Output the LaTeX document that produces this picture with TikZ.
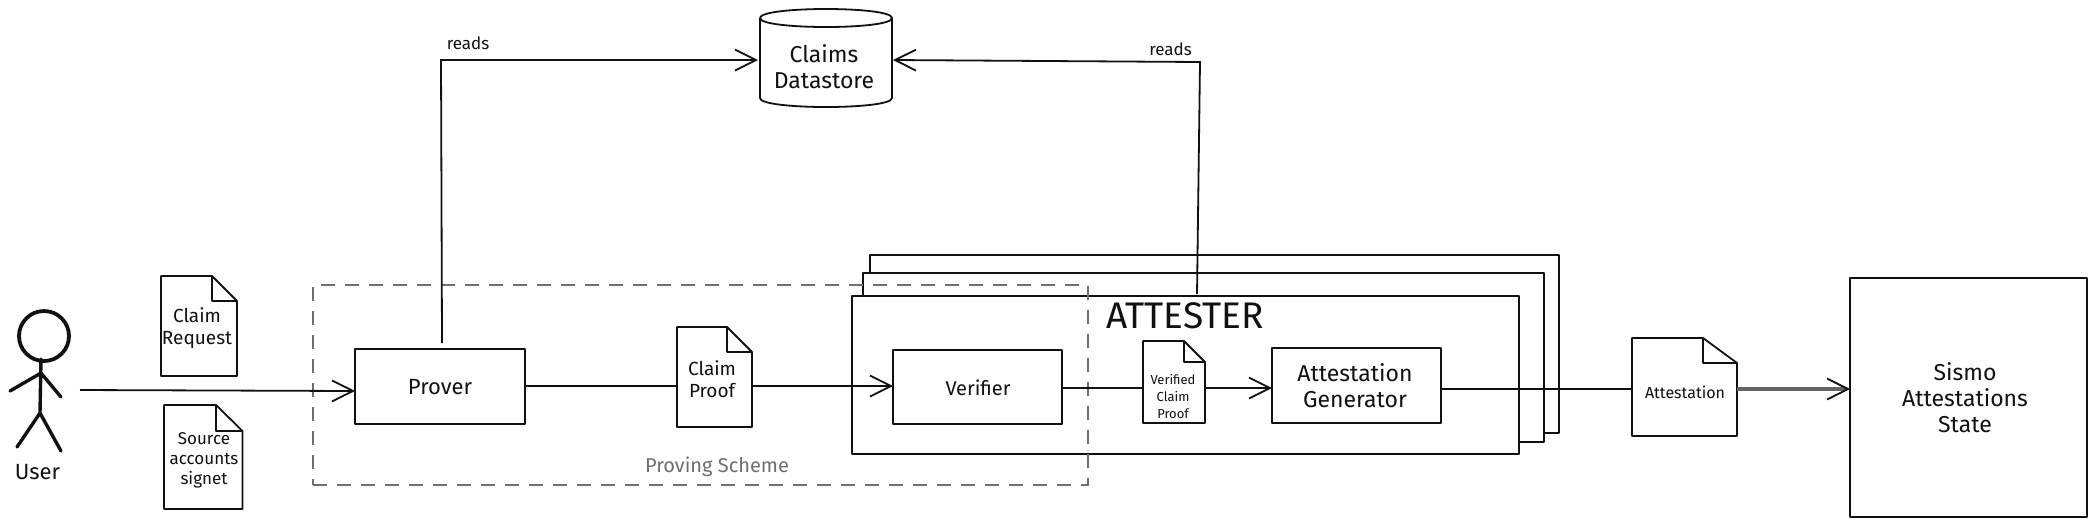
\documentclass[tikz,border=0pt]{standalone}
\usepackage{fontspec}
\setmainfont{Fira Sans}
\usetikzlibrary{arrows.meta,fit}
\definecolor{ink}{HTML}{111111}
\definecolor{dashgray}{HTML}{6E6E6E}
\tikzset{
  sbox/.style={draw=ink,line width=1pt,fill=white,inner sep=0pt,outer sep=0pt,line join=round,align=center},
  slab/.style={inner sep=0pt,outer sep=0pt,align=center,text=ink},
  conn/.style={draw=ink,line width=0.9pt},
  arr/.style={conn,-{Straight Barb[length=10.5pt,width=10.5pt,line width=0.9pt,color=ink]}},
  docline/.style={draw=ink,line width=0.9pt,fill=white,line join=round},
  stick/.style={draw=ink,line width=1.7pt,line cap=round},
  fA/.style={font=\fontsize{11.5}{13}\selectfont},
  fB/.style={font=\fontsize{11}{12.5}\selectfont},
  fC/.style={font=\fontsize{9.5}{11}\selectfont},
  fD/.style={font=\fontsize{8.5}{10}\selectfont},
  fE/.style={font=\fontsize{6.5}{8.5}\selectfont},
  fF/.style={font=\fontsize{8}{10}\selectfont},
  fG/.style={font=\fontsize{10}{12}\selectfont},
}
\newcommand{\docshape}[7]{%
  \node[fit={(#2,#3)(#4,#5)},inner sep=0pt,outer sep=0pt] (#1) {};
  \draw[docline] (#2,#3) -- (#6,#3) -- (#4,#7) -- (#4,#5) -- (#2,#5) -- cycle
    (#6,#3) -- (#6,#7) -- (#4,#7);
}
\begin{document}
\begin{tikzpicture}[x=0.5pt,y=-0.5pt]
\useasboundingbox (0,0) rectangle (2096,527);

% attester stack
\node[sbox,fit={(870,255)(1559,433)}] (back) {};
\node[sbox,fit={(863,273)(1544,442)}] (mid) {};
\node[sbox,fit={(852,296)(1519,454)}] (front) {};
\node[slab,font=\fontsize{18.5}{20}\selectfont] (attester) at (1185,316) {ATTESTER};

% proving scheme frame
\node[draw=dashgray,line width=0.9pt,dash pattern=on 7pt off 5pt,fit={(313,285)(1088,485)},inner sep=0pt,outer sep=0pt] (scheme) {};
\node[slab,fG,text=dashgray] (schemelabel) at (717,467) {Proving Scheme};

% user
\node[draw=ink,line width=1.9pt,circle,minimum size=25pt,inner sep=0pt,outer sep=0pt] (head) at (44,336) {};
\coordinate (neck) at (41,359);
\coordinate (hip) at (40,413);
\coordinate (shoulder) at (41,373);
\coordinate (lhand) at (10,391);
\coordinate (rhand) at (61,397);
\coordinate (lfoot) at (17,447);
\coordinate (rfoot) at (61,451);
\draw[stick] (neck) -- (hip) (lhand) -- (shoulder) -- (rhand) (lfoot) -- (hip) -- (rfoot);
\node[slab,fB] (user) at (37.5,472) {User};

% boxes
\node[sbox,fit={(355,349)(525,424)}] (prover) {};
\node[slab,fB] (provertext) at (440,387) {Prover};
\node[sbox,fit={(893,350)(1062,424)}] (verifier) {};
\node[slab,fG] (verifiertext) at (978,388) {Verifier};
\node[sbox,fit={(1272,348)(1441,423)}] (generator) {};
\node[slab,fA] (generatortext) at (1355,386) {Attestation\\Generator};
\node[sbox,line width=1.2pt,fit={(1850,278)(2087,517)}] (state) {};
\node[slab,fA] (statetext) at (1965,398) {Sismo\\Attestations\\State};

% datastore
\node[fit={(760,9)(892,107)},inner sep=0pt,outer sep=0pt] (store) {};
\draw[docline] (760,18) -- (760,98) .. controls (760,110) and (892,110) .. (892,98) -- (892,18)
  .. controls (892,6) and (760,6) .. (760,18) .. controls (760,30) and (892,30) .. (892,18);
\node[slab,fA] (storelabel) at (824,67) {Claims\\Datastore};

% documents
\docshape{reqdoc}{161}{276}{237}{376}{212}{301}
\node[slab,fC] (reqtext) at (197,328) {Claim\\Request};
\docshape{srcdoc}{164}{405}{242.5}{509}{216}{431}
\node[slab,fD] (srctext) at (204,460) {Source\\accounts\\signet};
\docshape{proofdoc}{677}{327}{752}{427}{727}{352}
\node[slab,fC] (prooftext) at (712,379) {Claim\\Proof};
\docshape{vdoc}{1143}{341}{1205}{423}{1184}{362}
\node[slab,fE] (vtext) at (1173,396) {Verified\\Claim\\Proof};
\docshape{adoc}{1632}{338}{1737}{436}{1703}{363}
\node[slab,fF] (atext) at (1685,392) {Attestation};

% connector bends and levels
\coordinate (userout) at (80,390);
\coordinate (userin) at (355,391);
\coordinate (proverup) at (442,343);
\coordinate (leftbend) at (441,60);
\coordinate (attup) at (1197,294);
\coordinate (rightbend) at (1200,62);
\coordinate (lstore) at (758,60);
\coordinate (rstore) at (893,60);
\coordinate (flowA) at (0,386);
\coordinate (flowB) at (0,388);
\coordinate (flowC) at (0,389);

\draw[arr] (userout) -- (userin);
\draw[arr] (proverup) -- (leftbend) -- (lstore);
\draw[arr] (attup) -- (rightbend) -- (rstore);
\node[slab,fD] (readsl) at (468,43) {reads};
\node[slab,fD] (readsr) at (1170.5,49) {reads};

\draw[conn] (prover.east |- flowA) -- (proofdoc.west |- flowA);
\draw[arr] (proofdoc.east |- flowA) -- (verifier.west |- flowA);
\draw[conn] (verifier.east |- flowB) -- (vdoc.west |- flowB);
\draw[arr] (vdoc.east |- flowB) -- (generator.west |- flowB);
\draw[conn] (generator.east |- flowC) -- (adoc.west |- flowC);
\draw[arr,line width=1.8pt,draw=ink!65] (adoc.east |- flowC) -- (state.west |- flowC);
\end{tikzpicture}
\end{document}
